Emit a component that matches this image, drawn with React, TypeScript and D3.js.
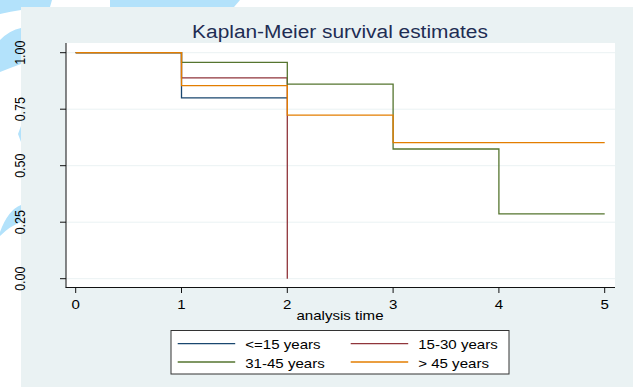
import React from "react";
import * as d3 from "d3";

// Kaplan-Meier step values
const groups = ["<=15 years", "15-30 years", "31-45 years", "> 45 years"];
const colors = ["#1a476f", "#90353b", "#55752f", "#e37e00"];
const times = [0, 1, 2, 3, 4, 5];
const yTicks = [0, 0.25, 0.5, 0.75, 1];
const yTickLabels = ["0.00", "0.25", "0.50", "0.75", "1.00"];

const survYoung = [
  [0, 1],
  [1, 0.8],
  [2, 0.8],
];
const survMid = [
  [0, 1],
  [1, 0.889],
  [2, 0],
];
const survOlder = [
  [0, 1],
  [1, 0.957],
  [2, 0.861],
  [3, 0.574],
  [4, 0.287],
  [5, 0.287],
];
const survOld = [
  [0, 1],
  [1, 0.854],
  [2, 0.724],
  [3, 0.602],
  [5, 0.602],
];
const curves = [survYoung, survMid, survOlder, survOld];

const W = 633;
const H = 387;
const SX = 1.16; // picture text is a bit wide

function T({ x, y, size, anchor = "middle", children, fill = "#000" }: any) {
  return (
    <text
      transform={`translate(${x},${y}) scale(${SX},1)`}
      fontSize={size}
      textAnchor={anchor}
      fill={fill}
      fontFamily="'Liberation Sans', Arial, sans-serif"
    >
      {children}
    </text>
  );
}

export default function App() {
  const x = d3.scaleLinear().domain([0, 5]).range([75.7, 604.7]);
  const y = d3.scaleLinear().domain([0, 1]).range([278.7, 52.7]);
  const line = d3
    .line<number[]>()
    .x((d) => x(d[0]))
    .y((d) => y(d[1]))
    .curve(d3.curveStepAfter);

  const legendRows = [
    [0, 1],
    [2, 3],
  ];

  return (
    <svg
      width={W}
      height={H}
      style={{ position: "absolute", left: 0, top: 0, background: "#fff" }}
    >
      {/* light blue swirls on the left edge */}
      <g fill="#b3e2fb">
        <path d="M0,0 L52,0 L50,7 Q20,9 0,14 Z" />
        <path d="M110,0 L240,0 L234,7 L110,7 Z" />
        <path d="M0,40 Q10,30 21,28 L21,64 Q10,68 0,72 Z" />
        <path d="M21,126 L21,142 L18,134 Z" />
        <path d="M0,232 Q8,210 21,205 L21,222 Q10,226 0,236 Z" />
      </g>
      <rect x={21} y={7} width={W - 21} height={H - 7} fill="#eaf2f3" />

      {/* plot region */}
      <rect x={66} y={43} width={549} height={244} fill="#fff" />
      {yTicks.map((t) => (
        <line
          key={t}
          x1={66}
          x2={615}
          y1={y(t)}
          y2={y(t)}
          stroke="#eaf2f3"
          strokeWidth={1}
        />
      ))}

      {/* survival curves */}
      {curves.map((c, i) => (
        <path
          key={i}
          d={line(c as number[][]) || ""}
          fill="none"
          stroke={colors[i]}
          strokeWidth={1.3}
        />
      ))}

      {/* axes */}
      <line x1={66} x2={66} y1={43} y2={287.5} stroke="#111" />
      <line x1={65.5} x2={615} y1={287.5} y2={287.5} stroke="#111" />
      {yTicks.map((t, i) => (
        <g key={t}>
          <line x1={60} x2={66} y1={y(t)} y2={y(t)} stroke="#111" />
          <text
            transform={`translate(25,${y(t)}) scale(${SX},1) rotate(-90)`}
            fontSize={12.5}
            textAnchor="middle"
            fontFamily="'Liberation Sans', Arial, sans-serif"
          >
            {yTickLabels[i]}
          </text>
        </g>
      ))}
      {times.map((t) => (
        <g key={t}>
          <line x1={x(t)} x2={x(t)} y1={287.5} y2={293} stroke="#111" />
          <T x={x(t)} y={308.5} size={13}>
            {t}
          </T>
        </g>
      ))}
      <T x={340} y={319.5} size={13}>
        analysis time
      </T>

      {/* title */}
      <T x={340} y={37.7} size={18} fill="#1e2d53">
        Kaplan-Meier survival estimates
      </T>

      {/* legend */}
      <rect
        x={171}
        y={330.5}
        width={338}
        height={43.5}
        fill="#fff"
        stroke="#333"
        strokeWidth={1}
      />
      {legendRows.map((row, r) =>
        row.map((g, c) => {
          const ly = r === 0 ? 343.7 : 362;
          const lx = c === 0 ? 177.7 : 350.7;
          return (
            <g key={g}>
              <line
                x1={lx}
                x2={lx + 57.5}
                y1={ly}
                y2={ly}
                stroke={colors[g]}
                strokeWidth={1.3}
              />
              <T x={lx + 67.5} y={ly + 5.5} size={13} anchor="start">
                {groups[g]}
              </T>
            </g>
          );
        })
      )}
    </svg>
  );
}
